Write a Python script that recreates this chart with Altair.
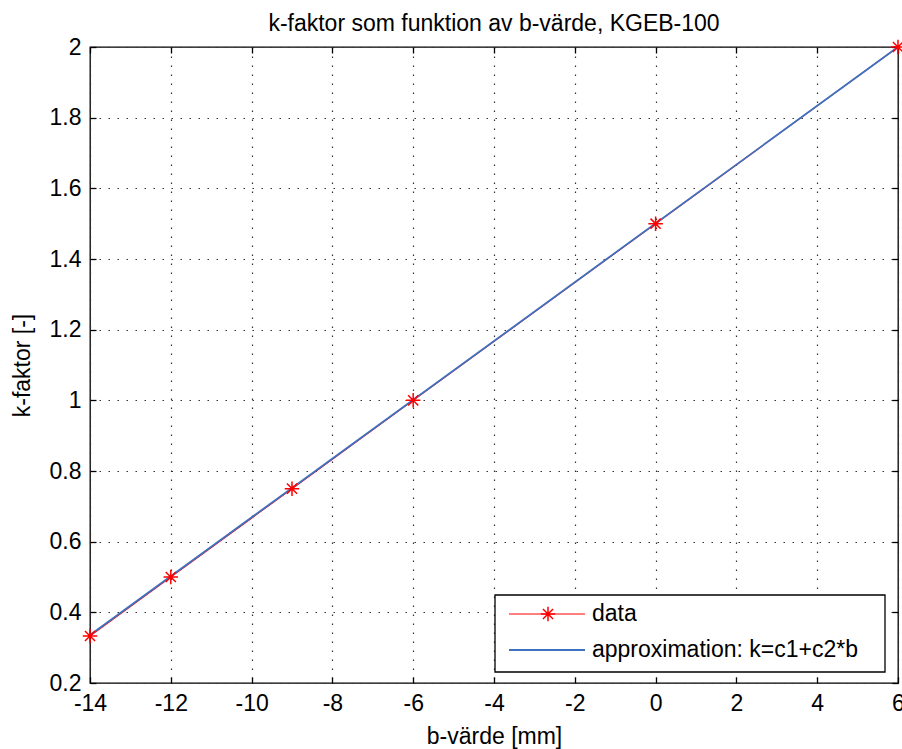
import altair as alt
import pandas as pd

# ---- data ----
b_values = [-14, -12, -9, -6, 0, 6]
k_values = [0.333, 0.5, 0.75, 1.0, 1.5, 2.0]
fit_b = [-14, 6]
fit_k = [0.336, 2.0]
x_ticks = [-14, -12, -10, -8, -6, -4, -2, 0, 2, 4, 6]
y_ticks = [0.2, 0.4, 0.6, 0.8, 1, 1.2, 1.4, 1.6, 1.8, 2]
legend_labels = ["data", "approximation: k=c1+c2*b"]
title_text = "k-faktor som funktion av b-värde, KGEB-100"
x_title = "b-värde [mm]"
y_title = "k-faktor [-]"

FONT = "Liberation Sans"
FS = 23
RED = "#ff0000"
BLUE = "#3d72c0"
W, H = 808, 636
STAR = "M-1,0L1,0M0,-1L0,1M-0.7,-0.7L0.7,0.7M-0.7,0.7L0.7,-0.7"

data_df = pd.DataFrame({"b": b_values, "k": k_values})
fit_df = pd.DataFrame({"b": fit_b, "k": fit_k})
one = pd.DataFrame({"v": [0]})

xscale = alt.Scale(domain=[-14, 6], nice=False, zero=False)
yscale = alt.Scale(domain=[0.2, 2.0], nice=False, zero=False)

common_tick = dict(offset=-6, tickSize=6, tickColor="#000", tickWidth=1.3, domain=False)
grid_style = dict(grid=True, gridColor="#333", gridDash=[1.5, 7.5], gridWidth=1.2)
label_style = dict(labelFont=FONT, labelFontSize=FS, labelColor="#000",
                   labelPadding=9, labelOverlap=False, labelFlush=False,
                   labelExpr="toString(datum.value)")
title_style = dict(titleFont=FONT, titleFontSize=FS, titleFontWeight="normal",
                   titleColor="#000", titleBaseline="alphabetic")

x_bottom = alt.Axis(orient="bottom", values=x_ticks, title=x_title,
                    titleX=W / 2, titleY=66,
                    **common_tick, **grid_style, **label_style, **title_style)
y_left = alt.Axis(orient="left", values=y_ticks, title=y_title,
                  titleAngle=270, titleX=-67, titleY=H / 2,
                  **common_tick, **grid_style, **label_style, **title_style)
x_top = alt.Axis(orient="top", values=x_ticks, labels=False, grid=False,
                 title=None, **common_tick)
y_right = alt.Axis(orient="right", values=y_ticks, labels=False, grid=False,
                   title=None, **common_tick)

red_line = alt.Chart(data_df).mark_line(color=RED, strokeWidth=1.2).encode(
    x=alt.X("b:Q", scale=xscale, axis=x_bottom),
    y=alt.Y("k:Q", scale=yscale, axis=y_left),
)
blue_line = alt.Chart(fit_df).mark_line(color=BLUE, strokeWidth=1.8).encode(
    x=alt.X("b:Q", scale=xscale, axis=x_top),
    y=alt.Y("k:Q", scale=yscale, axis=y_right),
)
stars = alt.Chart(data_df).mark_point(
    shape=STAR, filled=False, color=RED, strokeWidth=1.5, size=210, opacity=1
).encode(
    x=alt.X("b:Q", scale=xscale, axis=None),
    y=alt.Y("k:Q", scale=yscale, axis=None),
)

# ---- legend box (bottom-right, inside the plot) ----
leg_box = alt.Chart(one).mark_rect(fill="white", stroke="#000", strokeWidth=1.3).encode(
    x=alt.value(405), x2=alt.value(795), y=alt.value(548), y2=alt.value(625))
leg_red = alt.Chart(one).mark_rule(color=RED, strokeWidth=1.2).encode(
    x=alt.value(419), x2=alt.value(495), y=alt.value(567))
leg_star = alt.Chart(one).mark_point(
    shape=STAR, filled=False, color=RED, strokeWidth=1.5, size=210, opacity=1
).encode(x=alt.value(458), y=alt.value(567))
leg_blue = alt.Chart(one).mark_rule(color=BLUE, strokeWidth=1.8).encode(
    x=alt.value(419), x2=alt.value(495), y=alt.value(603))
leg_t1 = alt.Chart(one).mark_text(
    text=legend_labels[0], font=FONT, fontSize=FS, color="#000",
    align="left", baseline="middle").encode(x=alt.value(502), y=alt.value(567))
leg_t2 = alt.Chart(one).mark_text(
    text=legend_labels[1], font=FONT, fontSize=FS, color="#000",
    align="left", baseline="middle").encode(x=alt.value(502), y=alt.value(603))

chart = alt.layer(
    red_line, blue_line, stars,
    leg_box, leg_red, leg_star, leg_blue, leg_t1, leg_t2,
).resolve_axis(x="independent", y="independent").properties(
    width=W, height=H,
    padding={"left": 90, "top": 47, "right": 4, "bottom": 66},
    autosize=alt.AutoSizeParams(type="none"),
    background="white",
    title=alt.TitleParams(text=title_text, font=FONT, fontSize=FS,
                          fontWeight="normal", color="#000", anchor="middle",
                          offset=0),
).configure_view(stroke="#000", strokeWidth=1.3)

chart.save("out.html", embed_options={"renderer": "svg", "actions": False})
